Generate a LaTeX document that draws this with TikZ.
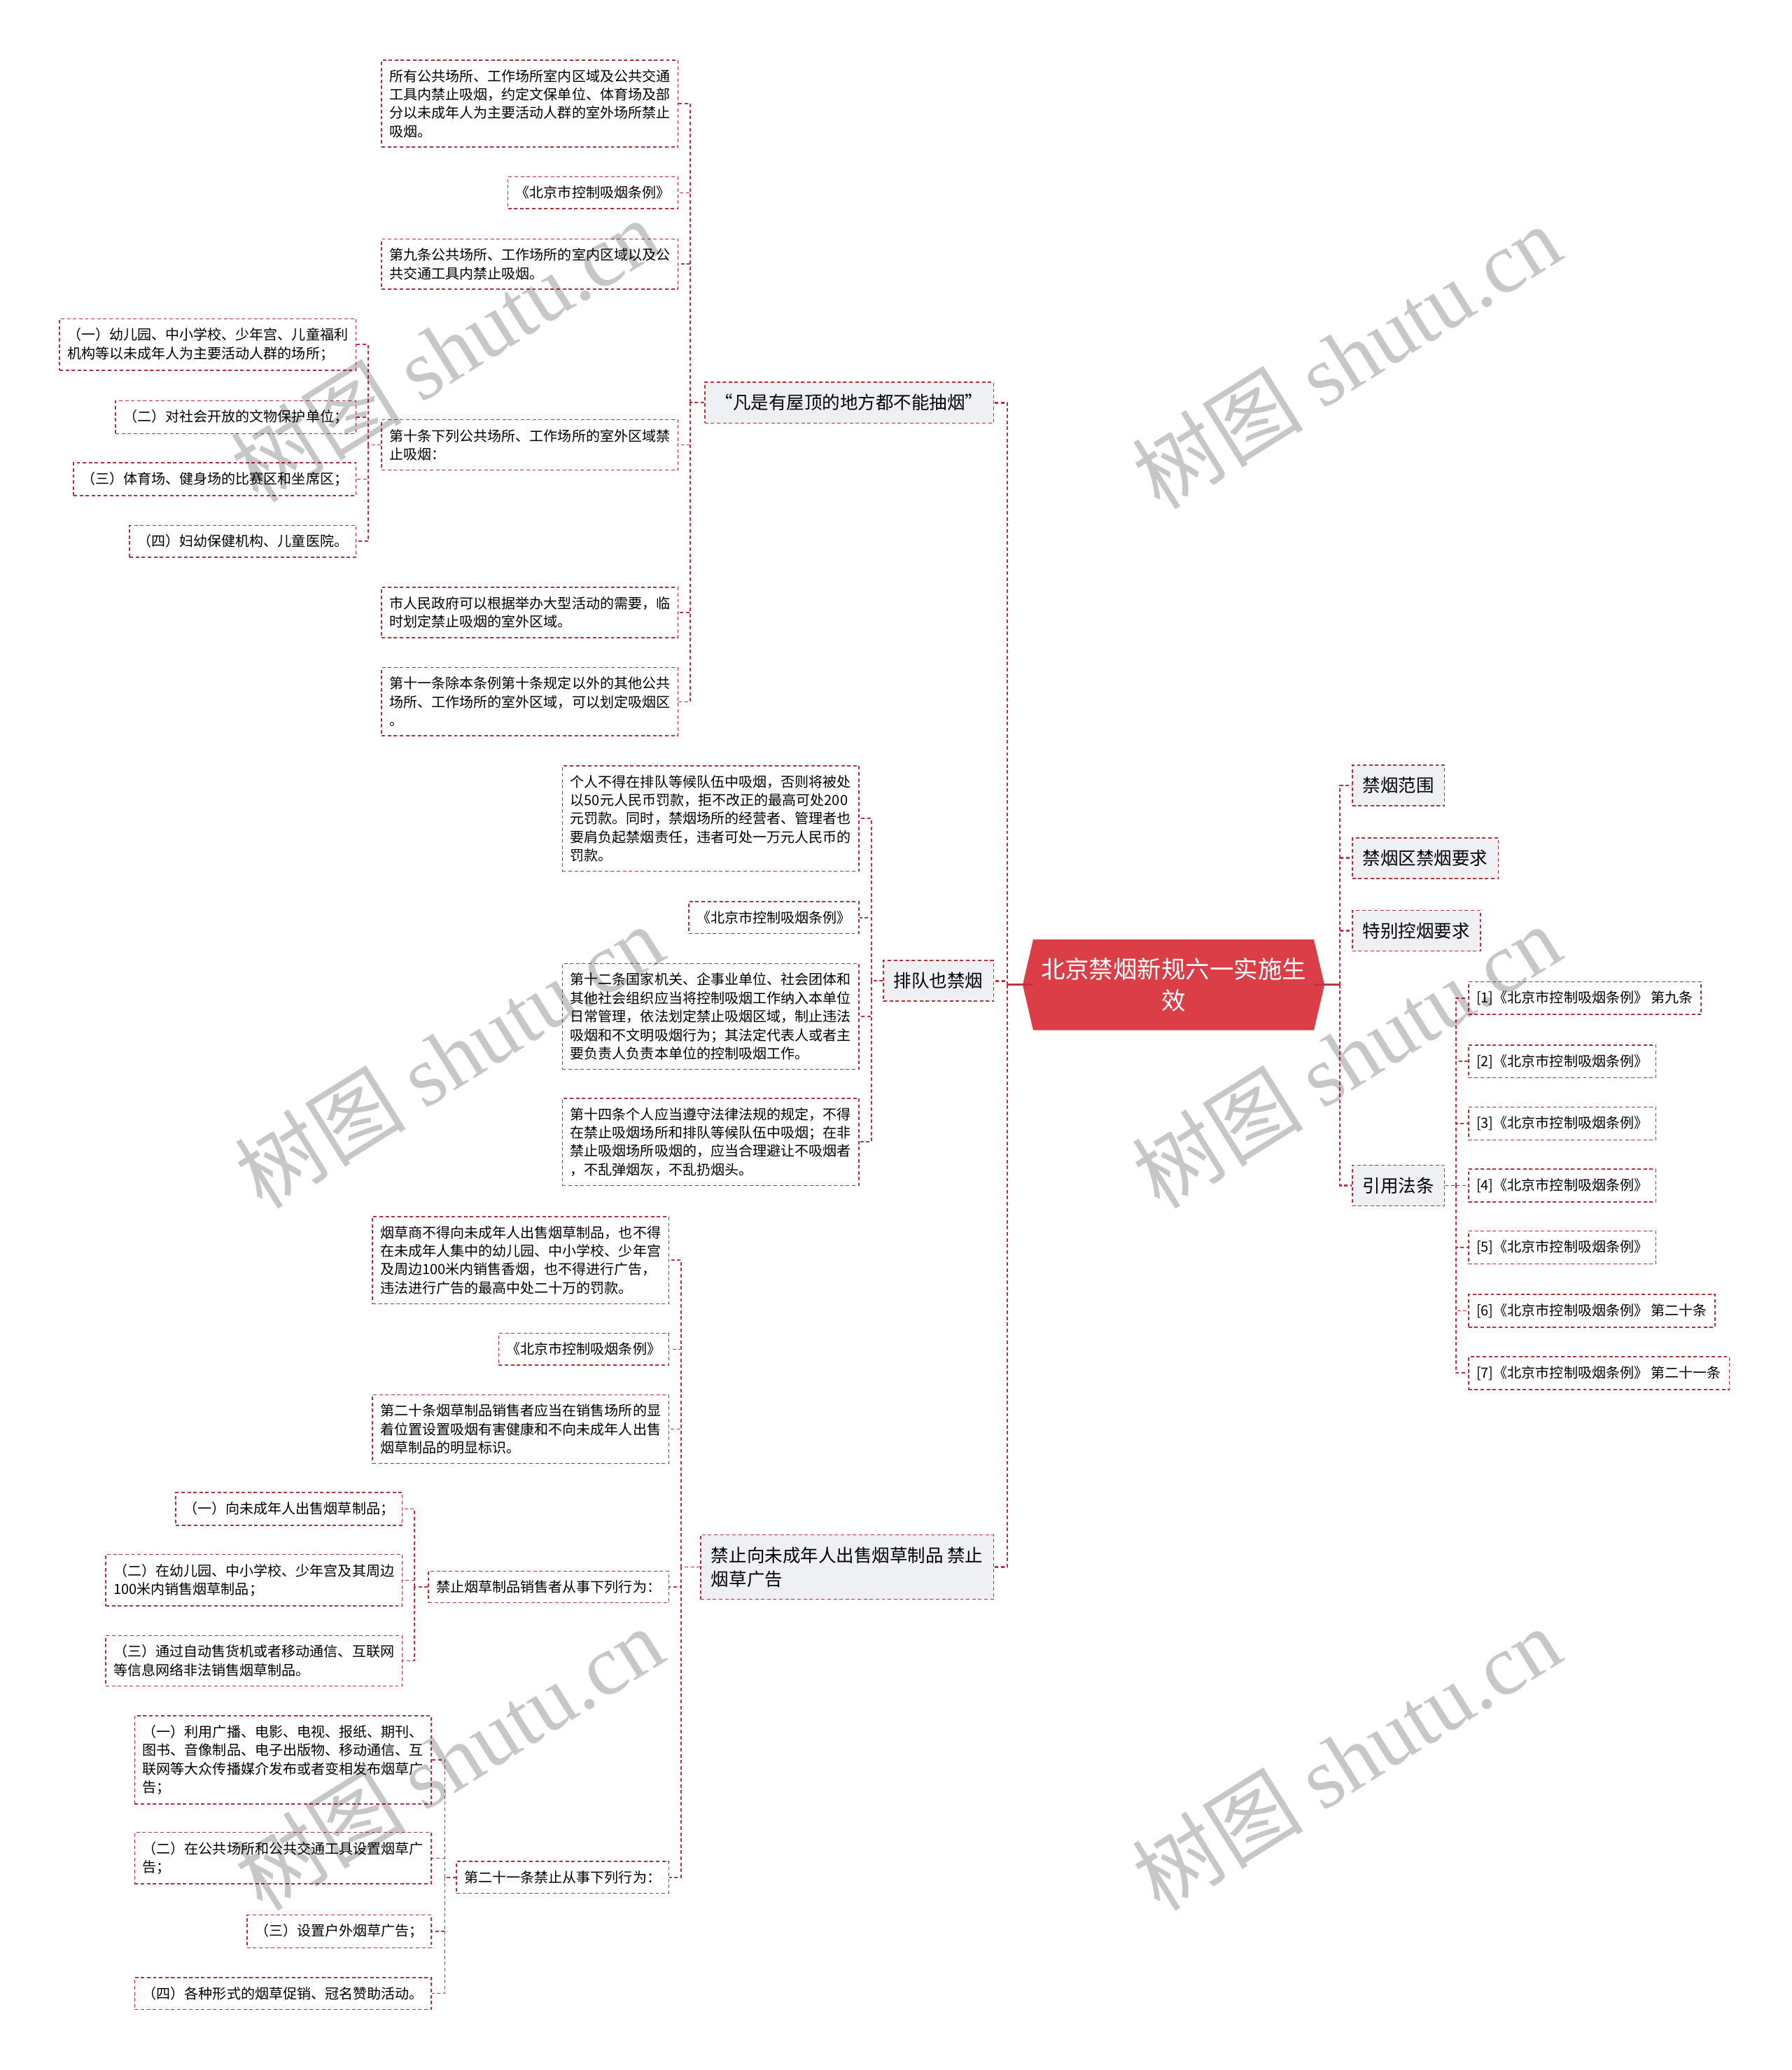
\documentclass[tikz,border=0pt]{standalone}
\usepackage{fontspec}
\setmainfont{Noto Sans CJK SC}
\newfontfamily\marklatin{Liberation Serif}
\usetikzlibrary{positioning,backgrounds,calc}
\definecolor{linkred}{RGB}{192,48,62}
\definecolor{boxred}{RGB}{182,48,58}
\definecolor{rootred}{RGB}{220,62,72}
\definecolor{topicgray}{RGB}{238,240,243}
\newcommand{\leaffont}{\fontsize{6.05pt}{7.97pt}\selectfont}
\newcommand{\topicfont}{\fontsize{7.7pt}{10.2pt}\selectfont}
\newcommand{\rootfont}{\fontsize{10.4pt}{13.6pt}\selectfont}
\tikzset{
  leaf/.style={draw=boxred,line width=0.45pt,dash pattern=on 1.5pt off 1.1pt,
    fill=white,align=left,inner xsep=3.4pt,inner ysep=4pt,font=\leaffont},
  topic/.style={leaf,fill=topicgray,inner xsep=4.5pt,inner ysep=5.2pt,font=\topicfont},
  rootbox/.style={text=white,align=center,minimum width=4.24cm,minimum height=1.36cm,
    inner sep=0pt,font=\rootfont},
  link/.style={linkred,line width=0.5pt,dash pattern=on 1.5pt off 1.1pt},
  trunk/.style={link,line width=0.8pt},
  watermark/.style={text=black,text opacity=0.22,rotate=32,font=\fontsize{37pt}{40pt}\selectfont}
}
\begin{document}
\begin{tikzpicture}[x=0.02cm,y=-0.02cm]
\useasboundingbox (0,0) rectangle (1357,1568);
% ================= root =================
\node[rootbox] (root) at (889,746) {北京禁烟新规六一实施生\\效};
\begin{scope}[on background layer]
  \fill[rootred] ([xshift=-0.16cm]root.west) -- (root.north west) -- (root.north east)
    -- ([xshift=0.16cm]root.east) -- (root.south east) -- (root.south west) -- cycle;
\end{scope}
\coordinate (trunkL) at (763,746);
\coordinate (trunkR) at (1015,746);
\draw[linkred,line width=0.9pt] (root.west) -- (trunkL);
\draw[linkred,line width=0.9pt] (root.east) -- (trunkR);
% ================= LEFT: topics =================
\node[topic,anchor=east] (fan) at (753,305) {“凡是有屋顶的地方都不能抽烟”};
\node[topic,anchor=east] (queue) at (753,743) {排队也禁烟};
\node[topic,anchor=east] (minor) at (753,1187) {禁止向未成年人出售烟草制品 禁止\\烟草广告};
\foreach \t in {fan,queue,minor}
  \draw[trunk] (trunkL) |- (\t.east);
% --- roofs branch
\node[leaf,anchor=east] (a1) at (514,78.5) {所有公共场所、工作场所室内区域及公共交通\\工具内禁止吸烟，约定文保单位、体育场及部\\分以未成年人为主要活动人群的室外场所禁止\\吸烟。};
\node[leaf,anchor=east] (a2) at (514,146) {《北京市控制吸烟条例》};
\node[leaf,anchor=east] (a3) at (514,200) {第九条公共场所、工作场所的室内区域以及公\\共交通工具内禁止吸烟。};
\node[leaf,anchor=east] (a4) at (514,337) {第十条下列公共场所、工作场所的室外区域禁\\止吸烟：};
\node[leaf,anchor=east] (a5) at (514,464) {市人民政府可以根据举办大型活动的需要，临\\时划定禁止吸烟的室外区域。};
\node[leaf,anchor=east] (a6) at (514,531.5) {第十一条除本条例第十条规定以外的其他公共\\场所、工作场所的室外区域，可以划定吸烟区\\。};
\coordinate (busA) at (523,305);
\draw[link] (fan.west) -- (busA);
\foreach \c in {a1,a2,a3,a4,a5,a6}
  \draw[link] (busA) |- (\c.east);
% --- article 10 items
\node[leaf,anchor=east] (a41) at (270,261) {（一）幼儿园、中小学校、少年宫、儿童福利\\机构等以未成年人为主要活动人群的场所；};
\node[leaf,anchor=east] (a42) at (270,316) {（二）对社会开放的文物保护单位；};
\node[leaf,anchor=east] (a43) at (270,363) {（三）体育场、健身场的比赛区和坐席区；};
\node[leaf,anchor=east] (a44) at (270,410) {（四）妇幼保健机构、儿童医院。};
\coordinate (busA4) at (279,337);
\draw[link] (a4.west) -- (busA4);
\foreach \c in {a41,a42,a43,a44}
  \draw[link] (busA4) |- (\c.east);
% --- queue branch
\node[leaf,anchor=east] (b1) at (651,620) {个人不得在排队等候队伍中吸烟，否则将被处\\以50元人民币罚款，拒不改正的最高可处200\\元罚款。同时，禁烟场所的经营者、管理者也\\要肩负起禁烟责任，违者可处一万元人民币的\\罚款。};
\node[leaf,anchor=east] (b2) at (651,695) {《北京市控制吸烟条例》};
\node[leaf,anchor=east] (b3) at (651,770) {第十二条国家机关、企事业单位、社会团体和\\其他社会组织应当将控制吸烟工作纳入本单位\\日常管理，依法划定禁止吸烟区域，制止违法\\吸烟和不文明吸烟行为；其法定代表人或者主\\要负责人负责本单位的控制吸烟工作。};
\node[leaf,anchor=east] (b4) at (651,865) {第十四条个人应当遵守法律法规的规定，不得\\在禁止吸烟场所和排队等候队伍中吸烟；在非\\禁止吸烟场所吸烟的，应当合理避让不吸烟者\\，不乱弹烟灰，不乱扔烟头。};
\coordinate (busB) at (660,743);
\draw[link] (queue.west) -- (busB);
\foreach \c in {b1,b2,b3,b4}
  \draw[link] (busB) |- (\c.east);
% --- minors branch
\node[leaf,anchor=east] (c1) at (507,954.5) {烟草商不得向未成年人出售烟草制品，也不得\\在未成年人集中的幼儿园、中小学校、少年宫\\及周边100米内销售香烟，也不得进行广告，\\违法进行广告的最高中处二十万的罚款。};
\node[leaf,anchor=east] (c2) at (507,1022) {《北京市控制吸烟条例》};
\node[leaf,anchor=east] (c3) at (507,1082.5) {第二十条烟草制品销售者应当在销售场所的显\\着位置设置吸烟有害健康和不向未成年人出售\\烟草制品的明显标识。};
\node[leaf,anchor=east] (c4) at (507,1202) {禁止烟草制品销售者从事下列行为：};
\node[leaf,anchor=east] (c5) at (507,1422) {第二十一条禁止从事下列行为：};
\coordinate (busC) at (516,1187);
\draw[link] (minor.west) -- (busC);
\foreach \c in {c1,c2,c3,c4,c5}
  \draw[link] (busC) |- (\c.east);
% --- sellers' acts
\node[leaf,anchor=east] (c41) at (305,1143) {（一）向未成年人出售烟草制品；};
\node[leaf,anchor=east] (c42) at (305,1197) {（二）在幼儿园、中小学校、少年宫及其周边\\100米内销售烟草制品；};
\node[leaf,anchor=east] (c43) at (305,1258) {（三）通过自动售货机或者移动通信、互联网\\等信息网络非法销售烟草制品。};
\coordinate (busC4) at (314,1202);
\draw[link] (c4.west) -- (busC4);
\foreach \c in {c41,c42,c43}
  \draw[link] (busC4) |- (\c.east);
% --- article 21 acts
\node[leaf,anchor=east] (c51) at (327,1333) {（一）利用广播、电影、电视、报纸、期刊、\\图书、音像制品、电子出版物、移动通信、互\\联网等大众传播媒介发布或者变相发布烟草广\\告；};
\node[leaf,anchor=east] (c52) at (327,1407.5) {（二）在公共场所和公共交通工具设置烟草广\\告；};
\node[leaf,anchor=east] (c53) at (327,1463) {（三）设置户外烟草广告；};
\node[leaf,anchor=east] (c54) at (327,1510) {（四）各种形式的烟草促销、冠名赞助活动。};
\coordinate (busC5) at (337,1422);
\draw[link] (c5.west) -- (busC5);
\foreach \c in {c51,c52,c53,c54}
  \draw[link] (busC5) |- (\c.east);
% ================= RIGHT =================
\node[topic,anchor=west] (scope) at (1024,595) {禁烟范围};
\node[topic,anchor=west] (zone) at (1024,650) {禁烟区禁烟要求};
\node[topic,anchor=west] (special) at (1024,705) {特别控烟要求};
\node[topic,anchor=west] (refs) at (1024,898) {引用法条};
\foreach \t in {scope,zone,special,refs}
  \draw[trunk] (trunkR) |- (\t.west);
\foreach \i/\y/\tail in {1/756/{ 第九条},2/804/{},3/851/{},4/898/{},5/945/{},6/993/{ 第二十条},7/1040/{ 第二十一条}}
  \node[leaf,anchor=west] (ref\i) at (1112,\y) {[\i]《北京市控制吸烟条例》\tail};
\coordinate (busR) at (1103,898);
\draw[link] (refs.east) -- (busR);
\foreach \i in {1,...,7}
  \draw[link] (busR) |- (ref\i.west);
% ================= watermarks =================
\foreach \i/\x/\y in {1/337/265,2/1020/270,3/340/800,4/1020/800,5/340/1332,6/1020/1332}
  \node[watermark] (wm\i) at (\x,\y) {树图 {\marklatin shutu.cn}};
\end{tikzpicture}
\end{document}
